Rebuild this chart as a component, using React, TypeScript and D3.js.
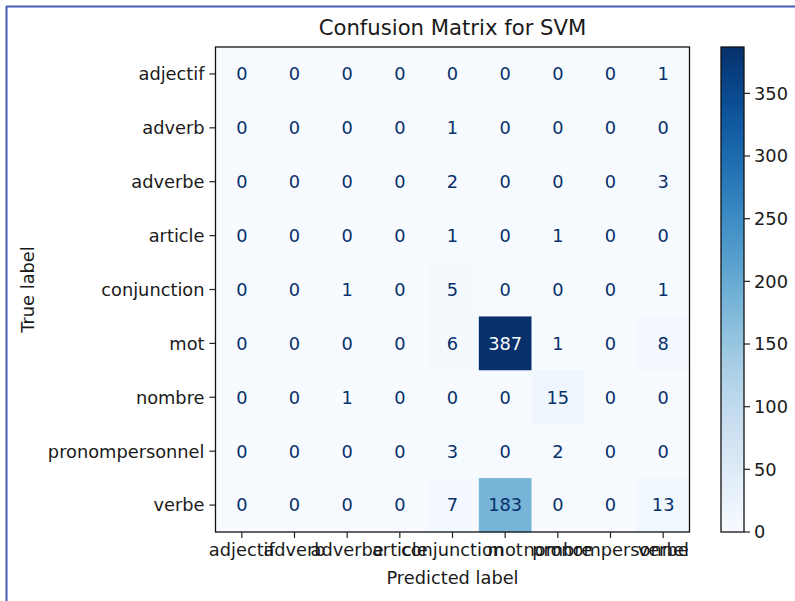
import React from "react";
import * as d3 from "d3";

const labels = ["adjectif", "adverb", "adverbe", "article", "conjunction", "mot", "nombre", "pronompersonnel", "verbe"];
const matrix: number[][] = [
  [0, 0, 0, 0, 0, 0, 0, 0, 1],
  [0, 0, 0, 0, 1, 0, 0, 0, 0],
  [0, 0, 0, 0, 2, 0, 0, 0, 3],
  [0, 0, 0, 0, 1, 0, 1, 0, 0],
  [0, 0, 1, 0, 5, 0, 0, 0, 1],
  [0, 0, 0, 0, 6, 387, 1, 0, 8],
  [0, 0, 1, 0, 0, 0, 15, 0, 0],
  [0, 0, 0, 0, 3, 0, 2, 0, 0],
  [0, 0, 0, 0, 7, 183, 0, 0, 13],
];
const cbTicks = [0, 50, 100, 150, 200, 250, 300, 350];
const title = "Confusion Matrix for SVM";
const xTitle = "Predicted label";
const yTitle = "True label";

export default function App() {
  const W = 795, H = 601;
  const left = 215.5, right = 689.5, top = 47, bottom = 532;
  const font = "DejaVu Sans, sans-serif";
  const fs = 17.8;
  const vmax = d3.max(matrix.flat()) as number;
  const vmin = d3.min(matrix.flat()) as number;
  const color = d3.scaleSequential(d3.interpolateBlues).domain([vmin, vmax]);
  const x = d3.scaleBand<number>().domain(d3.range(labels.length)).range([left, right]);
  const y = d3.scaleBand<number>().domain(d3.range(labels.length)).range([top, bottom]);
  const thresh = (vmax + vmin) / 2;
  const cbX0 = 721, cbX1 = 744;
  const cbY = d3.scaleLinear().domain([vmin, vmax]).range([bottom, top]);
  const stops = d3.range(0, 1.0001, 0.05);
  const tickColor = "#222";
  const textColor = "#1a1a1a";

  return (
    <svg width={W} height={H} style={{ position: "absolute", left: 0, top: 0, background: "#fff" }} fontFamily={font}>
      <rect x={0} y={0} width={W} height={H} fill="#fff" />
      <line x1={6.5} y1={6} x2={6.5} y2={H} stroke="#4a5ab4" strokeWidth={2} />
      <line x1={6} y1={6.5} x2={W} y2={6.5} stroke="#4a5ab4" strokeWidth={2} />
      <defs>
        <linearGradient id="cb" x1="0" y1="1" x2="0" y2="0">
          {stops.map((t, i) => (
            <stop key={i} offset={t} stopColor={d3.interpolateBlues(t)} />
          ))}
        </linearGradient>
      </defs>
      <text x={(left + right) / 2} y={35} textAnchor="middle" fontSize={21.2} fill={textColor}>{title}</text>
      {matrix.map((row, i) =>
        row.map((v, j) => (
          <g key={`${i}-${j}`}>
            <rect x={x(j)} y={y(i)} width={x.bandwidth() + 0.5} height={y.bandwidth() + 0.5} fill={color(v)} />
            <text
              x={(x(j) as number) + x.bandwidth() / 2}
              y={(y(i) as number) + y.bandwidth() / 2}
              dy="0.36em"
              textAnchor="middle"
              fontSize={fs}
              fill={v < thresh ? "#08306b" : "#f7fbff"}
            >
              {v}
            </text>
          </g>
        ))
      )}
      <rect x={left} y={top} width={right - left} height={bottom - top} fill="none" stroke="#111" strokeWidth={1.3} />
      {labels.map((l, i) => {
        const cy = (y(i) as number) + y.bandwidth() / 2;
        return (
          <g key={`y${i}`}>
            <line x1={left - 6} x2={left} y1={cy} y2={cy} stroke={tickColor} strokeWidth={1.2} />
            <text x={left - 11} y={cy} dy="0.36em" textAnchor="end" fontSize={fs} fill={textColor}>{l}</text>
          </g>
        );
      })}
      {labels.map((l, j) => {
        const cx = (x(j) as number) + x.bandwidth() / 2;
        return (
          <g key={`x${j}`}>
            <line x1={cx} x2={cx} y1={bottom} y2={bottom + 6} stroke={tickColor} strokeWidth={1.2} />
            <text x={cx} y={bottom + 24} textAnchor="middle" fontSize={fs} fill={textColor}>{l}</text>
          </g>
        );
      })}
      <text x={(left + right) / 2} y={584} textAnchor="middle" fontSize={fs} fill={textColor}>{xTitle}</text>
      <text transform={`translate(34,${(top + bottom) / 2}) rotate(-90)`} textAnchor="middle" fontSize={fs} fill={textColor}>{yTitle}</text>
      <rect x={cbX0} y={top} width={cbX1 - cbX0} height={bottom - top} fill="url(#cb)" stroke="#111" strokeWidth={1.3} />
      {cbTicks.map((t) => (
        <g key={`c${t}`}>
          <line x1={cbX1} x2={cbX1 + 6} y1={cbY(t)} y2={cbY(t)} stroke={tickColor} strokeWidth={1.2} />
          <text x={cbX1 + 10} y={cbY(t)} dy="0.36em" fontSize={fs} fill={textColor}>{t}</text>
        </g>
      ))}
    </svg>
  );
}
